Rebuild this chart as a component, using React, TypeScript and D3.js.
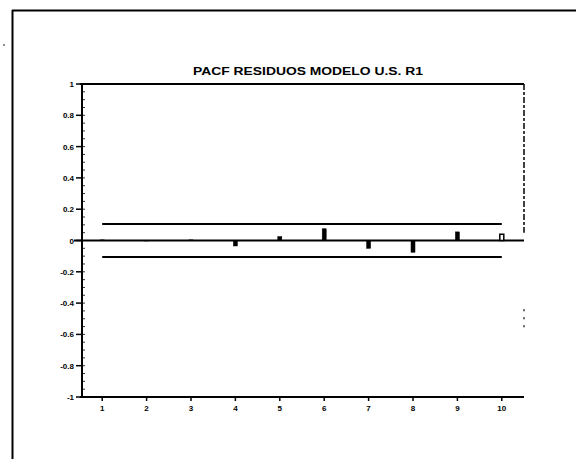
import React from "react";
import * as d3 from "d3";

const lags = [1, 2, 3, 4, 5, 6, 7, 8, 9, 10];
const pacf = [0.004, -0.003, 0.004, -0.035, 0.025, 0.075, -0.05, -0.075, 0.055, 0.04];
const yTicks = [1, 0.8, 0.6, 0.4, 0.2, 0, -0.2, -0.4, -0.6, -0.8, -1];
const confBand = 0.105;
const title = "PACF RESIDUOS MODELO U.S. R1";

const W = 576;
const H = 461;

export default function App() {
  const x = d3.scaleLinear().domain([0.5, 10.5]).range([80, 524]);
  const y = d3.scaleLinear().domain([-1, 1]).range([397, 84]);
  const minor = d3.range(-1, 1.0001, 0.05);
  const font = "'Liberation Sans', Arial, sans-serif";
  const bw = 4;
  return (
    <svg
      width={W}
      height={H}
      style={{ position: "absolute", left: 0, top: 0, background: "#fff" }}
    >
      <rect x={0} y={0} width={W} height={H} fill="#fff" />
      {/* outer frame */}
      <line x1={12.5} y1={10} x2={12.5} y2={459} stroke="#000" strokeWidth={2} />
      <line x1={12} y1={10.5} x2={576} y2={10.5} stroke="#000" strokeWidth={2} />
      <circle cx={4} cy={45} r={0.8} fill="#000" />
      {/* title */}
      <text
        x={308}
        y={75}
        textAnchor="middle"
        fontFamily={font}
        fontWeight="bold"
        fontSize={10}
        textLength={230}
        lengthAdjust="spacingAndGlyphs"
      >
        {title}
      </text>
      {/* plot frame */}
      <line x1={x(0.5)} y1={y(1)} x2={x(10.5)} y2={y(1)} stroke="#000" strokeWidth={2} />
      <line x1={82} y1={y(1)} x2={82} y2={y(-1)} stroke="#000" strokeWidth={2} />
      <line x1={x(0.5)} y1={y(-1)} x2={x(10.5)} y2={y(-1)} stroke="#000" strokeWidth={2} />
      <line
        x1={524}
        y1={y(1)}
        x2={524}
        y2={y(0.05)}
        stroke="#000"
        strokeWidth={1.5}
        strokeDasharray="6 2 3 2"
      />
      <line
        x1={524}
        y1={y(-0.44)}
        x2={524}
        y2={y(-0.56)}
        stroke="#000"
        strokeWidth={1.2}
        strokeDasharray="2 6"
      />
      {/* y minor ticks */}
      {minor.map((v, i) => (
        <line key={"m" + i} x1={82} x2={85} y1={y(v)} y2={y(v)} stroke="#000" strokeWidth={0.8} />
      ))}
      {/* y ticks */}
      {yTicks.map((v) => (
        <g key={"y" + v}>
          <line x1={76} x2={82} y1={y(v)} y2={y(v)} stroke="#000" strokeWidth={1.5} />
          <text
            x={74}
            y={y(v) + 3}
            textAnchor="end"
            fontFamily={font}
            fontWeight="bold"
            fontSize={8}
          >
            {String(v)}
          </text>
        </g>
      ))}
      {/* x ticks */}
      {lags.map((l) => (
        <g key={"x" + l}>
          <line x1={x(l)} x2={x(l)} y1={y(-1)} y2={y(-1) + 4} stroke="#000" strokeWidth={1.5} />
          <text
            x={x(l)}
            y={y(-1) + 14}
            textAnchor="middle"
            fontFamily={font}
            fontWeight="bold"
            fontSize={8}
          >
            {l}
          </text>
        </g>
      ))}
      {/* confidence bands */}
      <line x1={x(1)} x2={x(10)} y1={y(confBand)} y2={y(confBand)} stroke="#000" strokeWidth={2} />
      <line x1={x(1)} x2={x(10)} y1={y(-confBand)} y2={y(-confBand)} stroke="#000" strokeWidth={2} />
      {/* zero line */}
      <line x1={74} x2={x(10.5)} y1={y(0)} y2={y(0)} stroke="#000" strokeWidth={2} />
      {/* bars */}
      {lags.map((l, i) => {
        const v = pacf[i];
        const y0 = y(Math.max(0, v));
        const h = Math.abs(y(v) - y(0));
        const hollow = i === lags.length - 1;
        return (
          <rect
            key={"b" + l}
            x={x(l) - bw / 2}
            y={y0}
            width={bw}
            height={Math.max(h, 0.5)}
            fill={hollow ? "#fff" : "#000"}
            stroke="#000"
            strokeWidth={hollow ? 1.5 : 0.5}
          />
        );
      })}
    </svg>
  );
}
